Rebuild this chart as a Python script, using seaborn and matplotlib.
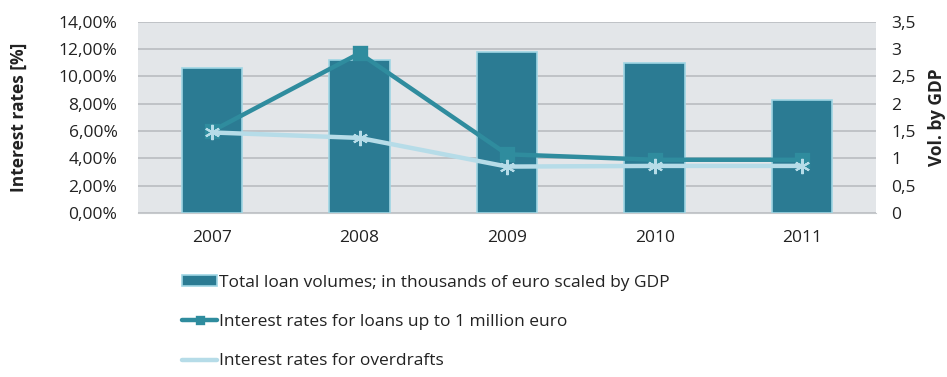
import numpy as np
import pandas as pd
import seaborn as sns
import matplotlib.pyplot as plt
from matplotlib.ticker import FuncFormatter, MultipleLocator

years = ['2007', '2008', '2009', '2010', '2011']
loan_volumes = [2.66, 2.80, 2.95, 2.75, 2.07]     # right axis, vol. by GDP
rate_loans = [6.0, 11.7, 4.3, 3.9, 3.9]           # left axis, %
rate_overdrafts = [5.9, 5.5, 3.4, 3.45, 3.45]     # left axis, %

lbl_vol = 'Total loan volumes; in thousands of euro scaled by GDP'
lbl_loans = 'Interest rates for loans up to 1 million euro'
lbl_over = 'Interest rates for overdrafts'

bar_col = '#2b7b93'
loan_col = '#2f8c9e'
over_col = '#b6dce8'
txt_col = '#222222'
fs = 12.5

sns.set_style('white')
plt.rcParams['font.family'] = ['Open Sans', 'DejaVu Sans']

df = pd.DataFrame({'year': years, 'vol': loan_volumes,
                   'loans': rate_loans, 'over': rate_overdrafts})

fig = plt.figure(figsize=(9.47, 3.77), dpi=100)
ax = fig.add_axes([0.146, 0.435, 0.779, 0.507])   # bars, scale on the right
ax2 = ax.twinx()                                   # lines, scale on the left

ax.set_facecolor('#e3e6e9')
sns.barplot(data=df, x='year', y='vol', ax=ax, color=bar_col, width=0.41,
            edgecolor='#9fd6e4', linewidth=1.2, saturation=1, label=lbl_vol)
ax.set_ylim(0, 3.5)
ax.set_xlim(-0.5, 4.5)
ax.yaxis.set_major_locator(MultipleLocator(0.5))
ax.grid(axis='y', color='#b9bdc1', linewidth=1.2)
ax.set_axisbelow(True)
ax.yaxis.tick_right()
ax.yaxis.set_label_position('right')
ax.yaxis.set_major_formatter(FuncFormatter(lambda v, p: ('%g' % v).replace('.', ',')))

sns.pointplot(data=df, x='year', y='loans', ax=ax2, color=loan_col, markers='s',
              linewidth=3.2, markersize=8, label=lbl_loans)
sns.pointplot(data=df, x='year', y='over', ax=ax2, color=over_col, markers=(6, 2, 0),
              linewidth=3.2, markersize=11, markeredgewidth=1.5, label=lbl_over)
ax2.set_ylim(0, 14)
ax2.set_xlim(-0.5, 4.5)
ax2.yaxis.set_major_locator(MultipleLocator(2))
ax2.yaxis.tick_left()
ax2.yaxis.set_label_position('left')
ax2.yaxis.set_major_formatter(FuncFormatter(lambda v, p: ('%.2f%%' % v).replace('.', ',')))
for a in (ax, ax2):
    if a.get_legend():
        a.get_legend().remove()
    a.tick_params(axis='both', labelsize=fs, colors=txt_col, length=0)
    for s in a.spines.values():
        s.set_visible(False)
ax.spines['bottom'].set_visible(True)
ax.spines['bottom'].set_color('#c6c9cc')

ax.tick_params(axis='x', pad=12)
ax.tick_params(axis='y', pad=11)
ax2.tick_params(axis='y', pad=15)
ax.set_xlabel('')
ax2.set_xlabel('')
ax.set_ylabel('Vol. by GDP', fontsize=fs, fontweight='bold', color=txt_col)
ax2.set_ylabel('Interest rates [%]', fontsize=fs, fontweight='bold', color=txt_col)
ax.yaxis.set_label_coords(1.0705, 0.5)
ax2.yaxis.set_label_coords(-0.150, 0.5)

h1, l1 = ax.get_legend_handles_labels()
h2, l2 = ax2.get_legend_handles_labels()
leg = fig.legend(h1 + h2, l1 + l2, loc='upper left', bbox_to_anchor=(0.185, 0.29),
                 frameon=False, fontsize=fs, labelspacing=1.35, handlelength=2.0,
                 handleheight=0.6, handletextpad=0.1, borderaxespad=0)
for t in leg.get_texts():
    t.set_color(txt_col)
for hd in leg.legend_handles[1:]:
    hd.set_markersize(5)
leg.legend_handles[2].set_marker('None')

fig.savefig('out.png', dpi=100)
